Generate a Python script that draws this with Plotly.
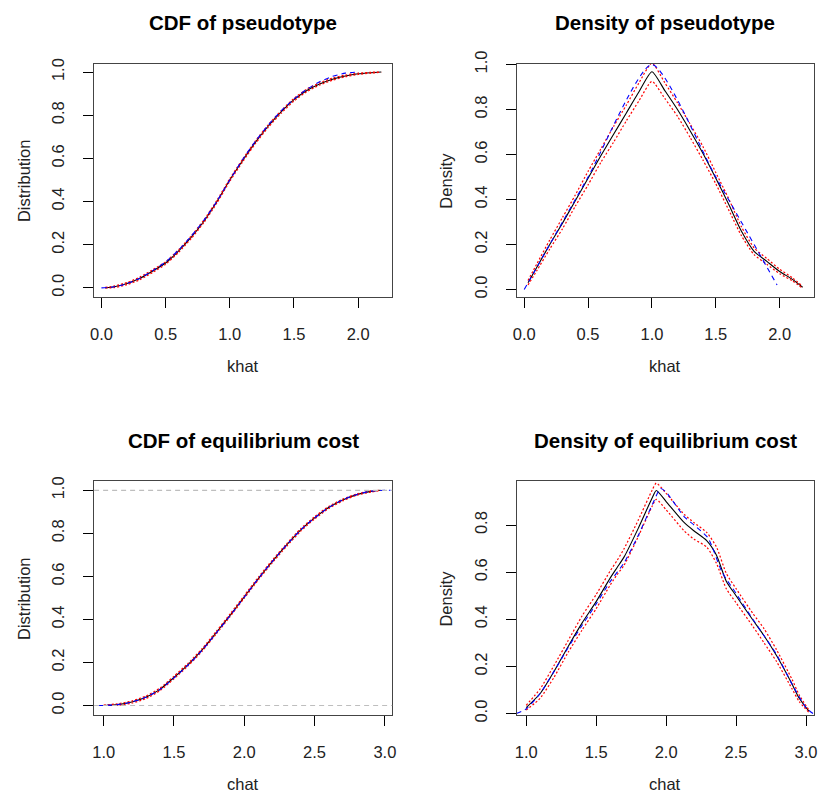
import plotly.graph_objects as go

# ---- CDF of pseudotype (khat) ----
k_grid = [0.03, 0.1, 0.2, 0.3, 0.4, 0.5, 0.6, 0.7, 0.8, 0.9, 1.0, 1.1, 1.2,
          1.3, 1.4, 1.5, 1.6, 1.7, 1.8, 1.9, 2.0, 2.1, 2.18]
cdf_k_est = [0.0, 0.005, 0.02, 0.044, 0.078, 0.115, 0.17, 0.235, 0.31, 0.4, 0.5,
             0.59, 0.675, 0.75, 0.815, 0.872, 0.915, 0.945, 0.967, 0.982, 0.992, 0.997, 1.0]
cdf_k_lo = [0.0, 0.001, 0.015, 0.038, 0.072, 0.109, 0.164, 0.229, 0.304, 0.394, 0.494,
            0.584, 0.669, 0.744, 0.809, 0.866, 0.909, 0.94, 0.962, 0.978, 0.989, 0.995, 0.999]
cdf_k_hi = [0.002, 0.009, 0.025, 0.05, 0.084, 0.121, 0.176, 0.241, 0.316, 0.406, 0.506,
            0.596, 0.681, 0.756, 0.821, 0.878, 0.921, 0.95, 0.972, 0.986, 0.995, 0.999, 1.0]
k_true_grid = [0.0, 0.1, 0.2, 0.3, 0.4, 0.5, 0.6, 0.7, 0.8, 0.9, 1.0, 1.1, 1.2,
               1.3, 1.4, 1.5, 1.6, 1.7, 1.8, 1.9, 2.0]
cdf_k_true = [0.0, 0.005, 0.02, 0.045, 0.08, 0.12, 0.175, 0.24, 0.315, 0.402, 0.5,
              0.595, 0.68, 0.755, 0.82, 0.875, 0.92, 0.955, 0.98, 0.995, 1.0]

# ---- Density of pseudotype (khat) ----
dens_k_est = [0.03, 0.1, 0.2, 0.295, 0.395, 0.495, 0.595, 0.69, 0.785, 0.88, 0.968,
              0.885, 0.8, 0.705, 0.605, 0.495, 0.38, 0.26, 0.17, 0.125, 0.08, 0.045, 0.01]
dens_k_hi = [0.04, 0.115, 0.22, 0.32, 0.42, 0.525, 0.625, 0.725, 0.82, 0.92, 1.006,
             0.92, 0.83, 0.735, 0.635, 0.52, 0.405, 0.28, 0.185, 0.138, 0.09, 0.052, 0.014]
dens_k_lo = [0.02, 0.085, 0.18, 0.27, 0.37, 0.465, 0.565, 0.655, 0.75, 0.84, 0.925,
             0.85, 0.77, 0.675, 0.575, 0.47, 0.355, 0.24, 0.155, 0.112, 0.07, 0.038, 0.006]
k_true_dens_x = [0.0, 0.5, 1.0, 1.5, 1.98]
k_true_dens_y = [0.0, 0.5, 1.0, 0.5, 0.02]

# ---- CDF of equilibrium cost (chat) ----
c_grid = [1.0, 1.1, 1.2, 1.3, 1.4, 1.5, 1.6, 1.7, 1.8, 1.9, 2.0, 2.1, 2.2, 2.3,
          2.4, 2.5, 2.6, 2.7, 2.8, 2.9, 2.97]
cdf_c_est = [0.0, 0.004, 0.016, 0.038, 0.075, 0.13, 0.19, 0.258, 0.338, 0.42, 0.505,
             0.59, 0.67, 0.745, 0.815, 0.872, 0.92, 0.955, 0.98, 0.995, 1.0]
cdf_c_lo = [0.0, 0.001, 0.011, 0.032, 0.069, 0.124, 0.184, 0.252, 0.332, 0.414, 0.499,
            0.584, 0.664, 0.739, 0.809, 0.867, 0.915, 0.951, 0.977, 0.992, 0.998]
cdf_c_hi = [0.002, 0.008, 0.021, 0.044, 0.081, 0.136, 0.196, 0.264, 0.344, 0.426, 0.511,
            0.596, 0.676, 0.751, 0.821, 0.877, 0.925, 0.959, 0.983, 0.997, 1.0]
c_true_grid = [0.96, 1.0, 1.1, 1.2, 1.3, 1.4, 1.5, 1.6, 1.7, 1.8, 1.9, 2.0, 2.1, 2.2,
               2.3, 2.4, 2.5, 2.6, 2.7, 2.8, 2.9, 3.0, 3.04]
cdf_c_true = [0.0, 0.0, 0.004, 0.016, 0.038, 0.074, 0.128, 0.188, 0.256, 0.336, 0.418,
              0.503, 0.59, 0.67, 0.745, 0.815, 0.872, 0.92, 0.956, 0.981, 0.996, 1.0, 1.0]

# ---- Density of equilibrium cost (chat) ----
c_dens_x = [1.0, 1.1, 1.2, 1.3, 1.4, 1.5, 1.6, 1.65, 1.7, 1.8, 1.9, 1.93, 2.0, 2.13,
            2.2, 2.29, 2.36, 2.43, 2.5, 2.62, 2.7, 2.79, 2.9, 2.95, 3.02]
dens_c_est = [0.025, 0.085, 0.18, 0.285, 0.385, 0.475, 0.575, 0.62, 0.665, 0.785, 0.915, 0.947,
              0.9, 0.81, 0.775, 0.734, 0.672, 0.562, 0.5, 0.397, 0.33, 0.245, 0.125, 0.066, 0.01]
dens_c_hi = [0.035, 0.105, 0.205, 0.31, 0.415, 0.505, 0.605, 0.65, 0.7, 0.82, 0.948, 0.978,
             0.935, 0.845, 0.81, 0.769, 0.707, 0.595, 0.53, 0.425, 0.36, 0.27, 0.145, 0.08, 0.015]
dens_c_lo = [0.015, 0.065, 0.155, 0.26, 0.355, 0.445, 0.545, 0.59, 0.63, 0.75, 0.88, 0.909,
             0.865, 0.775, 0.74, 0.707, 0.637, 0.53, 0.47, 0.37, 0.3, 0.22, 0.105, 0.052, 0.005]
c_true_dens_x = [0.93, 1.0, 1.1, 1.2, 1.3, 1.4, 1.5, 1.6, 1.7, 1.8, 1.9, 1.96, 2.0, 2.13,
                 2.2, 2.3, 2.4, 2.5, 2.62, 2.7, 2.79, 2.9, 3.0, 3.05]
c_true_dens_y = [0.0, 0.02, 0.085, 0.18, 0.28, 0.375, 0.465, 0.56, 0.64, 0.755, 0.885, 0.955,
                 0.94, 0.835, 0.8, 0.745, 0.6, 0.51, 0.4, 0.33, 0.25, 0.125, 0.025, 0.0]

titles = ["CDF of pseudotype", "Density of pseudotype",
          "CDF of equilibrium cost", "Density of equilibrium cost"]
xlabels = ["khat", "khat", "chat", "chat"]
ylabels = ["Distribution", "Density", "Distribution", "Density"]

W, H = 822, 808
FONT = "Liberation Sans, Arial, sans-serif"

# panel boxes in pixels: (left, right, top, bottom)
boxes = [(91, 392, 52, 291.5), (517.7, 817.7, 52, 291.5),
         (91, 392, 481, 720.7), (517.7, 817.7, 481, 720.7)]
xranges = [[-0.057, 2.265], [-0.059, 2.267], [0.932, 3.052], [0.932, 3.055]]
yranges = [[-0.042, 1.039], [-0.033, 1.004], [-0.044, 1.041], [-0.006, 0.985]]
xticks = [[0, 0.5, 1, 1.5, 2], [0, 0.5, 1, 1.5, 2],
          [1, 1.5, 2, 2.5, 3], [1, 1.5, 2, 2.5, 3]]
yticks = [[0, 0.2, 0.4, 0.6, 0.8, 1.0], [0, 0.2, 0.4, 0.6, 0.8, 1.0],
          [0, 0.2, 0.4, 0.6, 0.8, 1.0], [0, 0.2, 0.4, 0.6, 0.8]]

fig = go.Figure()

def add(panel, x, y, kind):
    ax = "" if panel == 0 else str(panel + 1)
    style = {
        "est": dict(color="#000000", width=1.1),
        "ci": dict(color="#FF0000", width=1.2, dash="2px,2px"),
        "true": dict(color="#0000FF", width=1.1, dash="5px,4px"),
    }[kind]
    fig.add_trace(go.Scatter(x=x, y=y, mode="lines", xaxis="x" + ax, yaxis="y" + ax,
                             line=dict(shape="spline", smoothing=0.6, **style),
                             showlegend=False, hoverinfo="skip"))

# panel 1
add(0, k_grid, cdf_k_est, "est")
add(0, k_grid, cdf_k_lo, "ci")
add(0, k_grid, cdf_k_hi, "ci")
add(0, k_true_grid, cdf_k_true, "true")
# panel 2
add(1, k_grid, dens_k_est, "est")
add(1, k_grid, dens_k_lo, "ci")
add(1, k_grid, dens_k_hi, "ci")
add(1, k_true_dens_x, k_true_dens_y, "true")
# panel 3
add(2, c_grid, cdf_c_est, "est")
add(2, c_grid, cdf_c_lo, "ci")
add(2, c_grid, cdf_c_hi, "ci")
add(2, c_true_grid, cdf_c_true, "true")
# panel 4
add(3, c_dens_x, dens_c_est, "est")
add(3, c_dens_x, dens_c_lo, "ci")
add(3, c_dens_x, dens_c_hi, "ci")
add(3, c_true_dens_x, c_true_dens_y, "true")

layout = dict(width=W, height=H, margin=dict(l=0, r=0, t=0, b=0),
              paper_bgcolor="white", plot_bgcolor="white",
              font=dict(family=FONT, color="#000000"))
annotations = []
shapes = []
for i, (l, r, t, b) in enumerate(boxes):
    ax = "" if i == 0 else str(i + 1)
    common = dict(showgrid=False, zeroline=False, showline=True, mirror=True,
                  linecolor="#444444", linewidth=1.3, ticks="outside", ticklen=10,
                  tickwidth=1, tickcolor="#000000",
                  tickfont=dict(family=FONT, size=16.5, color="#222222"))
    layout["xaxis" + ax] = dict(domain=[l / W, r / W], range=xranges[i],
                                anchor="y" + ax, tickvals=xticks[i],
                                ticktext=[f"{v:.1f}" for v in xticks[i]],
                                ticklabelstandoff=12, **common)
    layout["yaxis" + ax] = dict(domain=[1 - b / H, 1 - t / H], range=yranges[i],
                                anchor="x" + ax, tickvals=yticks[i],
                                ticktext=[f"{v:.1f}" for v in yticks[i]],
                                tickangle=-90, ticklabelstandoff=12, **common)
    cx = (l + r) / 2
    annotations.append(dict(text=f"<b>{titles[i]}</b>", x=cx / W, y=1 - (t - 42) / H,
                            xref="paper", yref="paper", showarrow=False,
                            xanchor="center", yanchor="middle",
                            font=dict(family=FONT, size=20.5, color="#000000")))
    annotations.append(dict(text=xlabels[i], x=cx / W, y=1 - (b + 70.5) / H,
                            xref="paper", yref="paper", showarrow=False,
                            xanchor="center", yanchor="middle",
                            font=dict(family=FONT, size=16.5, color="#222222")))
    annotations.append(dict(text=ylabels[i], x=(l - 71) / W, y=1 - (t + b) / 2 / H,
                            xref="paper", yref="paper", showarrow=False, textangle=-90,
                            xanchor="center", yanchor="middle",
                            font=dict(family=FONT, size=16.5, color="#222222")))

# reference levels 0 and 1 on the empirical CDF of chat
for level in (0.0, 1.0):
    shapes.append(dict(type="line", xref="x3 domain", yref="y3", x0=0, x1=1,
                       y0=level, y1=level,
                       line=dict(color="#BEBEBE", width=1.2, dash="5px,4px")))

layout["annotations"] = annotations
layout["shapes"] = shapes
fig.update_layout(**layout)
fig.write_html("out.html")
